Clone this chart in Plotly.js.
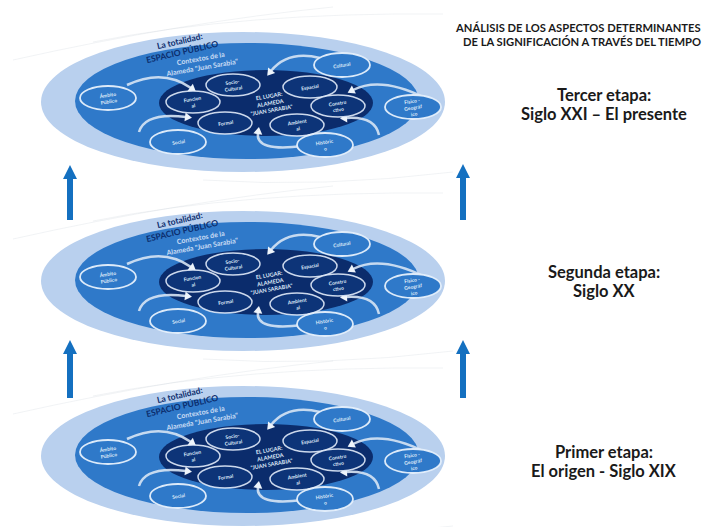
<!DOCTYPE html>
<html>
<head>
<meta charset="utf-8">
<script src="https://cdn.plot.ly/plotly-3.0.1.min.js"></script>
<style>html,body{margin:0;padding:0;background:#fff;}#chart{width:705px;height:527px;}</style>
</head>
<body>
<div id="chart"></div>
<script>
// ---- content ----
const headerLines = ["ANÁLISIS DE LOS ASPECTOS DETERMINANTES", "DE LA SIGNIFICACIÓN A TRAVÉS DEL TIEMPO"];
const stageTitles = ["Primer etapa:", "Segunda etapa:", "Tercer etapa:"];
const stageSubtitles = ["El origen - Siglo XIX", "Siglo XX", "Siglo XXI – El presente"];
const outerRingLabel = "La totalidad:<br>ESPACIO PÚBLICO";
const contextLabel = "Contextos de la<br>Alameda \"Juan Sarabia\"";
const centerLabel = "EL LUGAR:<br>ALAMEDA<br>\"JUAN SARABIA\"";
const innerLabels = ["Socio-<br>Cultural", "Espacial", "Funcion<br>al", "Constru<br>ctivo", "Formal", "Ambient<br>al"];
const outerLabels = ["Cultural", "Físico -<br>Geográf<br>ico", "Históric<br>o", "Social", "Ámbito<br>Público"];

// ---- layout geometry (pixels) ----
const W = 705, H = 527;
const CX = 243;
const stageCY = [456, 281, 102];
const innerPos = [[-10,-17],[67,-15],[-50,0],[95,4],[-18,21],[54,23]];
const outerPos = [[99,-37],[170,5],[82,43],[-65,40],[-135,-4]];
const arcs = [
  [[77,-44],[45,-52],[28,-31]],
  [[-116,-17],[-80,-34],[-52,-14]],
  [[-104,30],[-98,10],[-57,15]],
  [[60,44],[12,50],[15,31]],
  [[182,-4],[138,-26],[110,-12]],
  [[136,33],[132,14],[103,16]]
];
const wisps = [
  [[-230,-42],[-60,-80],[90,-95]],
  [[-150,-60],[0,-90],[200,-88]],
  [[-40,78],[80,86],[210,70]]
];

const C_LIGHT = '#b9d0ee', C_MED = '#2f79c9', C_DARK = '#0b2c6c', C_INNER = '#0d3478', C_ARROW = '#1470c0';

const shapes = [], ann = [];
function ell(cx, cy, rx, ry, fill, line, lw) {
  shapes.push({type:'circle', xref:'x', yref:'y', x0:cx-rx, x1:cx+rx, y0:cy-ry, y1:cy+ry,
    fillcolor:fill, line:{color:line||fill, width:lw||0}, layer:'above'});
}
function txt(x, y, t, size, color, angle, bold) {
  ann.push({x:x, y:y, xref:'x', yref:'y', text: bold ? '<b>'+t+'</b>' : t, showarrow:false,
    font:{family:'Lato, Open Sans, sans-serif', size:size, color:color}, textangle:angle||0, align:'center'});
}

stageCY.forEach(function(cy, s) {
  wisps.forEach(function(w) {
    shapes.push({type:'path', xref:'x', yref:'y', layer:'below',
      path:'M'+(CX+w[0][0])+','+(cy+w[0][1])+' Q'+(CX+w[1][0])+','+(cy+w[1][1])+' '+(CX+w[2][0])+','+(cy+w[2][1]),
      line:{color:'rgba(190,200,210,0.22)', width:1}});
  });
  ell(CX, cy, 202, 70, C_LIGHT);
  ell(CX+4, cy-1, 172, 58, C_MED);
  ell(CX+23, cy+1, 107, 33, C_DARK);
  // arcs
  arcs.forEach(function(a) {
    const p0=[CX+a[0][0], cy+a[0][1]], c=[CX+a[1][0], cy+a[1][1]], p1=[CX+a[2][0], cy+a[2][1]];
    shapes.push({type:'path', xref:'x', yref:'y', layer:'above',
      path:'M'+p0[0]+','+p0[1]+' Q'+c[0]+','+c[1]+' '+p1[0]+','+p1[1],
      line:{color:'rgba(215,228,244,0.9)', width:2.5}});
    let dx=p1[0]-c[0], dy=p1[1]-c[1]; const L=Math.hypot(dx,dy); dx/=L; dy/=L;
    const tip=[p1[0]+dx*6, p1[1]+dy*6], b=[p1[0]-dx*1, p1[1]-dy*1];
    const nx=-dy, ny=dx;
    shapes.push({type:'path', xref:'x', yref:'y', layer:'above',
      path:'M'+tip[0]+','+tip[1]+' L'+(b[0]+nx*4.5)+','+(b[1]+ny*4.5)+' L'+(b[0]-nx*4.5)+','+(b[1]-ny*4.5)+' Z',
      fillcolor:'#eef4fb', line:{width:0}});
  });
  innerPos.forEach(function(p, i) {
    ell(CX+p[0], cy+p[1], 27, 11, C_INNER, 'rgba(225,235,250,0.9)', 1.5);
    txt(CX+p[0], cy+p[1], innerLabels[i], 5, '#dfe9f8', -9, true);
  });
  outerPos.forEach(function(p, i) {
    ell(CX+p[0], cy+p[1], 28, 12, C_MED, 'rgba(230,240,252,0.95)', 1.8);
    txt(CX+p[0], cy+p[1], outerLabels[i], 5, '#dfe9f8', -9, true);
  });
  txt(CX+27, cy+1, centerLabel, 5.5, '#dfe9f8', -10, true);
  txt(CX-62, cy-56, outerRingLabel, 8.5, C_DARK, -13, true);
  txt(CX-42, cy-40, contextLabel, 7, '#c9dcf4', -10, true);
  // stage text
  const ty = [452, 272, 95][s];
  txt(604, ty, stageTitles[s], 16.5, '#1a1a1a', 0, true);
  txt(604, ty+19, stageSubtitles[s], 16.5, '#1a1a1a', 0, true);
});

// vertical blue arrows between stages
[[70,165,220],[70,340,398],[463,164,220],[463,340,398]].forEach(function(a) {
  const x=a[0], top=a[1], bot=a[2];
  shapes.push({type:'path', xref:'x', yref:'y', layer:'above',
    path:'M'+x+','+top+' L'+(x+7)+','+(top+14)+' L'+(x+3)+','+(top+14)+' L'+(x+3)+','+bot+
         ' L'+(x-3)+','+bot+' L'+(x-3)+','+(top+14)+' L'+(x-7)+','+(top+14)+' Z',
    fillcolor:C_ARROW, line:{width:0}});
});

// header
headerLines.forEach(function(t, i) {
  ann.push({x:703, y:27+i*14, xref:'x', yref:'y', xanchor:'right', text:'<b>'+t+'</b>', showarrow:false,
    font:{family:'Lato, Open Sans, sans-serif', size:11.2, color:'#1a1a1a'}});
});

Plotly.newPlot('chart', [{x:[], y:[], type:'scatter', mode:'markers', hoverinfo:'skip'}], {
  width:W, height:H, margin:{l:0,r:0,t:0,b:0},
  paper_bgcolor:'#ffffff', plot_bgcolor:'#ffffff', showlegend:false,
  xaxis:{range:[0,W], visible:false, fixedrange:true},
  yaxis:{range:[H,0], visible:false, fixedrange:true},
  shapes:shapes, annotations:ann
}, {displayModeBar:false, staticPlot:true});
</script>
</body>
</html>
